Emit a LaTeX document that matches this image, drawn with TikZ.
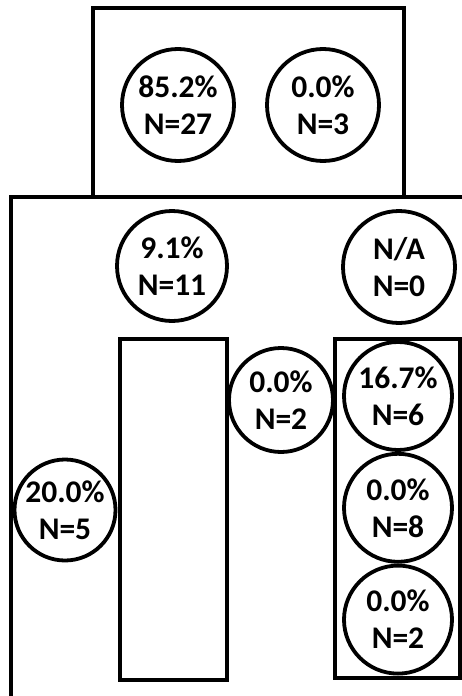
\documentclass[tikz,border=0pt]{standalone}
\usepackage{fontspec}
\setmainfont{Carlito}
\tikzstyle{rate}=[circle,draw,line width=3.8pt,inner sep=0pt,align=center,
font=\bfseries\fontsize{31.5}{37}\selectfont,minimum size=108pt]
\tikzstyle{frame}=[draw,line width=3.8pt]
\usetikzlibrary{positioning}

\begin{document}
\begin{tikzpicture}[x=1pt,y=-1pt]
			\useasboundingbox (0,0) rectangle (462,696);
			\clip (0,0) rectangle (462,696);

			% boxes
			\draw[frame] (93,8) rectangle (404,197);
			\draw[frame] (11,720) -- (11,197) -- (480,197);
			\draw[frame] (120,339) rectangle (227,680);
			\draw[frame] (335,339) rectangle (460,678);

			% top box
			\node[rate, minimum size=112pt] (a1) at (178,105) {85.2\%\\N=27};
			\node[rate, minimum size=112pt] (a2) at (323,105) {0.0\%\\N=3};

			% lower box
			\node[rate, minimum size=110pt] (b1) at (172,266) {9.1\%\\N=11};
			\node[rate, minimum size=112pt] (b2) at (399,267) {N/A\\N=0};
			\node[rate, minimum size=101pt] (c0) at (65,510) {20.0\%\\N=5};
			\node[rate, minimum size=104pt] (c1) at (281,400) {0.0\%\\N=2};
			\node[rate] (d1) at (398,396) {16.7\%\\N=6};
			\node[rate, below=0pt of d1] (d2) {0.0\%\\N=8};
			\node[rate, below=0pt of d2] (d3) {0.0\%\\N=2};
		\end{tikzpicture}
\end{document}
